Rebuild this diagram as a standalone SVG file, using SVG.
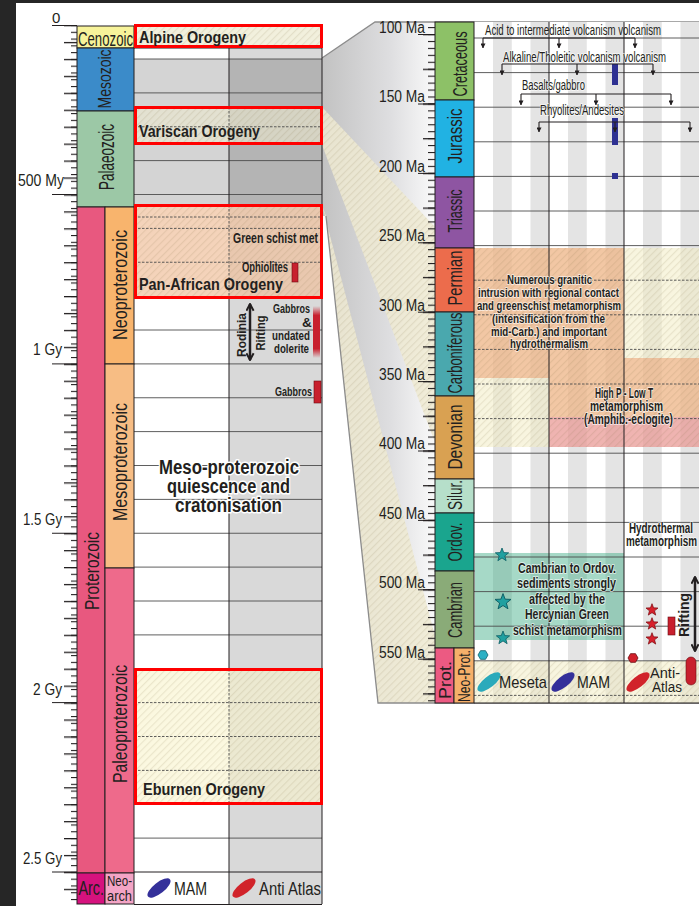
<svg xmlns="http://www.w3.org/2000/svg" width="699" height="906" viewBox="0 0 699 906">
<defs>
<style>
.t{font-family:'Liberation Sans Narrow','Liberation Sans',Arial,sans-serif;fill:#231f20}
.b{font-weight:700}
.g{stroke:#4d4d4d;stroke-width:0.9;fill:none}
.d{stroke:#4d4d4d;stroke-width:0.9;stroke-dasharray:2.5 1.5;fill:none}
.k{stroke:#231f20;stroke-width:1;fill:none}
.o{stroke:#231f20;stroke-width:1}
.rb{fill:none;stroke:#ff0000;stroke-width:3}
.h{paint-order:stroke;stroke:#fff;stroke-width:3;stroke-linejoin:round}
.h2{paint-order:stroke;stroke:#fff;stroke-opacity:0.6;stroke-width:2;stroke-linejoin:round}
.ar{stroke:#231f20;stroke-width:1.1;fill:none}
.rbar{fill:#c8202e;stroke:#6b0d12;stroke-width:0.6}
</style>
<pattern id="hatch" width="5" height="5" patternUnits="userSpaceOnUse" patternTransform="rotate(45)"><rect width="1.2" height="5" fill="#7a6a40" fill-opacity="0.13"/></pattern>
<linearGradient id="fg" gradientUnits="userSpaceOnUse" x1="322" y1="0" x2="436" y2="0"><stop offset="0" stop-color="#c2c2c2"/><stop offset="0.6" stop-color="#dedee0"/><stop offset="1" stop-color="#fafafa"/></linearGradient>
<linearGradient id="fade" x1="0" y1="0" x2="0" y2="1"><stop offset="0" stop-color="#c8202e" stop-opacity="0"/><stop offset="0.18" stop-color="#c8202e"/><stop offset="0.82" stop-color="#c8202e"/><stop offset="1" stop-color="#c8202e" stop-opacity="0"/></linearGradient>
<pattern id="tkL" x="0" y="25" width="20" height="6.775" patternUnits="userSpaceOnUse"><rect width="20" height="1.1" fill="#231f20"/></pattern>
<pattern id="tkL2" x="0" y="25" width="20" height="16.9375" patternUnits="userSpaceOnUse"><rect width="20" height="1.3" fill="#231f20"/></pattern>
<pattern id="tkR" x="0" y="34" width="20" height="6.94" patternUnits="userSpaceOnUse"><rect width="20" height="1.1" fill="#231f20"/></pattern>
<pattern id="tkR2" x="0" y="34" width="20" height="34.7" patternUnits="userSpaceOnUse"><rect width="20" height="1.3" fill="#231f20"/></pattern>
<marker id="ah" viewBox="0 0 6 6" refX="5.5" refY="3" markerWidth="5" markerHeight="5" markerUnits="userSpaceOnUse" orient="auto"><path d="M0,0 L6,3 L0,6 Z" fill="#231f20"/></marker>
<marker id="chev" viewBox="0 0 10 10" refX="8.5" refY="5" markerWidth="9" markerHeight="9" markerUnits="userSpaceOnUse" orient="auto-start-reverse"><path d="M1,1 L8.5,5 L1,9" fill="none" stroke="#231f20" stroke-width="2.2"/></marker>
<path id="star" d="M0,-7 L1.73,-2.38 L6.66,-2.16 L2.8,0.91 L4.12,5.66 L0,2.94 L-4.12,5.66 L-2.8,0.91 L-6.66,-2.16 L-1.73,-2.38 Z"/>
<path id="hex" d="M5,0 L2.5,4.33 L-2.5,4.33 L-5,0 L-2.5,-4.33 L2.5,-4.33 Z"/>
</defs>

<rect width="699" height="906" fill="#ffffff"/>
<rect x="0" y="0" width="16" height="906" fill="#262626"/>
<rect x="0" y="0" width="699" height="3" fill="#262626"/>

<!-- zoom funnel -->
<g id="connectors">
<polygon points="322,58 375,22 436,22 436,703 378,703 326,216 322,216" fill="url(#fg)"/>
<polygon points="322,107 436,228 436,445 322,145" fill="#eeead2" fill-opacity="0.85"/>
<polygon points="322,107 436,228 436,445 322,145" fill="url(#hatch)"/>
<polygon points="322,205 436,640 436,703 378,703 326,216" fill="#eeead2" fill-opacity="0.85"/>
<polygon points="322,205 436,640 436,703 378,703 326,216" fill="url(#hatch)"/>
<polyline points="322,58 375,22 699,22" fill="none" stroke="#8c8c8c" stroke-width="1.3"/>
<polyline points="326,216 378,703 699,703" fill="none" stroke="#8c8c8c" stroke-width="1.3"/>
</g>

<!-- left panel -->
<g id="left-columns">
<rect x="134" y="48" width="95" height="856" fill="#ffffff"/>
<rect x="229" y="48" width="93" height="856" fill="#d9d9d9"/>
<rect x="134" y="59" width="188" height="148" fill="#000" fill-opacity="0.17"/>
</g>

<g id="box-fills">
<rect x="135" y="26" width="187" height="21" fill="#ece9cf" fill-opacity="0.7"/>
<rect x="135" y="26" width="187" height="21" fill="url(#hatch)"/>
<rect x="135" y="107" width="187" height="37" fill="#ece9cf" fill-opacity="0.6"/>
<rect x="135" y="107" width="187" height="37" fill="url(#hatch)"/>
<rect x="135" y="205" width="187" height="93" fill="#f0c09c" fill-opacity="0.7"/>
<rect x="135" y="205" width="187" height="93" fill="url(#hatch)"/>
<rect x="135" y="669" width="187" height="135" fill="#f8f4cc" fill-opacity="0.6"/>
<rect x="135" y="669" width="187" height="135" fill="url(#hatch)"/>
</g>

<g id="left-grid">
<line class="k" x1="134" y1="48" x2="322" y2="48"/>
<line class="g" x1="134" y1="59" x2="322" y2="59"/>
<line class="g" x1="134" y1="92.9" x2="322" y2="92.9"/>
<line class="d" x1="134" y1="126.75" x2="322" y2="126.75"/>
<line class="g" x1="134" y1="160.6" x2="322" y2="160.6"/>
<line class="g" x1="134" y1="194.5" x2="322" y2="194.5"/>
<line class="d" x1="134" y1="217" x2="322" y2="217"/>
<line class="d" x1="134" y1="228.4" x2="322" y2="228.4"/>
<line class="d" x1="134" y1="262.25" x2="322" y2="262.25"/>
<line class="g" x1="134" y1="330" x2="322" y2="330"/>
<line class="g" x1="134" y1="363.9" x2="322" y2="363.9"/>
<line class="g" x1="134" y1="397.75" x2="322" y2="397.75"/>
<line class="g" x1="134" y1="431.6" x2="322" y2="431.6"/>
<line class="g" x1="134" y1="465.5" x2="322" y2="465.5"/>
<line class="g" x1="134" y1="499.4" x2="322" y2="499.4"/>
<line class="g" x1="134" y1="533.25" x2="322" y2="533.25"/>
<line class="g" x1="134" y1="567.1" x2="322" y2="567.1"/>
<line class="g" x1="134" y1="601" x2="322" y2="601"/>
<line class="g" x1="134" y1="634.9" x2="322" y2="634.9"/>
<line class="d" x1="134" y1="702.6" x2="322" y2="702.6"/>
<line class="d" x1="134" y1="736.5" x2="322" y2="736.5"/>
<line class="d" x1="134" y1="770.4" x2="322" y2="770.4"/>
<line class="g" x1="134" y1="838.1" x2="322" y2="838.1"/>
<line class="k" x1="134" y1="872" x2="322" y2="872"/>
<line class="k" x1="229" y1="48" x2="229" y2="107"/>
<line class="d" x1="229" y1="107" x2="229" y2="144"/>
<line class="k" x1="229" y1="144" x2="229" y2="205"/>
<line class="d" x1="229" y1="205" x2="229" y2="298"/>
<line class="k" x1="229" y1="298" x2="229" y2="669"/>
<line class="d" x1="229" y1="669" x2="229" y2="804"/>
<line class="k" x1="229" y1="804" x2="229" y2="904"/>
<line class="k" x1="322" y1="48" x2="322" y2="904"/>
<line class="k" x1="134" y1="904.5" x2="322" y2="904.5"/>
</g>

<g id="left-axis">
<rect x="71" y="25" width="6" height="878" fill="url(#tkL)"/>
<rect x="64" y="25" width="13" height="878" fill="url(#tkL2)"/>
<line class="k" x1="52" y1="25.5" x2="77" y2="25.5" stroke-width="1.4"/>
<line class="k" x1="52" y1="194.5" x2="77" y2="194.5" stroke-width="1.4"/>
<line class="k" x1="52" y1="363.9" x2="77" y2="363.9" stroke-width="1.4"/>
<line class="k" x1="52" y1="533.25" x2="77" y2="533.25" stroke-width="1.4"/>
<line class="k" x1="52" y1="702.6" x2="77" y2="702.6" stroke-width="1.4"/>
<line class="k" x1="52" y1="872" x2="77" y2="872" stroke-width="1.4"/>
<text class="t" x="52" y="23" font-size="15">0</text>
<text class="t" x="18" y="186" font-size="16" textLength="46" lengthAdjust="spacingAndGlyphs">500 My</text>
<text class="t" x="33" y="355" font-size="16" textLength="29" lengthAdjust="spacingAndGlyphs">1 Gy</text>
<text class="t" x="23" y="525" font-size="16" textLength="39" lengthAdjust="spacingAndGlyphs">1.5 Gy</text>
<text class="t" x="33" y="695" font-size="16" textLength="29" lengthAdjust="spacingAndGlyphs">2 Gy</text>
<text class="t" x="23" y="864" font-size="16" textLength="39" lengthAdjust="spacingAndGlyphs">2.5 Gy</text>
</g>

<g id="era-cenozoic"><rect x="77" y="26" width="57" height="22" fill="#f7f39a" class="o"/><text class="t" x="78" y="45.5" font-size="20" textLength="55" lengthAdjust="spacingAndGlyphs">Cenozoic</text></g>
<g id="era-mesozoic"><rect x="77" y="48" width="57" height="63" fill="#3b8bc9" class="o"/><text class="t" transform="translate(111,79) rotate(-90)" text-anchor="middle" font-size="19" textLength="59" lengthAdjust="spacingAndGlyphs">Mesozoic</text></g>
<g id="era-palaeozoic"><rect x="77" y="111" width="57" height="96" fill="#9cc8a6" class="o"/><text class="t" transform="translate(114,157) rotate(-90)" text-anchor="middle" font-size="22" textLength="66" lengthAdjust="spacingAndGlyphs">Palaeozoic</text></g>
<g id="era-proterozoic"><rect x="77" y="207" width="28" height="666" fill="#e8587f" class="o"/><text class="t" transform="translate(99,571) rotate(-90)" text-anchor="middle" font-size="21" textLength="78" lengthAdjust="spacingAndGlyphs">Proterozoic</text></g>
<g id="era-neoproterozoic"><rect x="105" y="207" width="29" height="157" fill="#f8b46d" class="o"/><text class="t" transform="translate(127,285) rotate(-90)" text-anchor="middle" font-size="21" textLength="110" lengthAdjust="spacingAndGlyphs">Neoproterozoic</text></g>
<g id="era-mesoproterozoic"><rect x="105" y="364" width="29" height="204" fill="#f7bd84" class="o"/><text class="t" transform="translate(127,462) rotate(-90)" text-anchor="middle" font-size="21" textLength="118" lengthAdjust="spacingAndGlyphs">Mesoproterozoic</text></g>
<g id="era-paleoproterozoic"><rect x="105" y="568" width="29" height="305" fill="#ee6a8b" class="o"/><text class="t" transform="translate(127,724) rotate(-90)" text-anchor="middle" font-size="21" textLength="118" lengthAdjust="spacingAndGlyphs">Paleoproterozoic</text></g>
<g id="era-archean"><rect x="77" y="873" width="28" height="31" fill="#d6127e" class="o"/><text class="t" x="78.5" y="895" font-size="21" textLength="25.5" lengthAdjust="spacingAndGlyphs">Arc.</text></g>
<g id="era-neoarchean"><rect x="105" y="873" width="29" height="31" fill="#f3a4c5" class="o"/><text class="t" x="107" y="886" font-size="14" textLength="25" lengthAdjust="spacingAndGlyphs">Neo-</text><text class="t" x="107" y="901" font-size="14" textLength="25" lengthAdjust="spacingAndGlyphs">arch</text></g>

<g id="alpine-orogeny"><rect class="rb" x="135.5" y="25.5" width="186" height="21"/><text class="t b" x="139" y="43" font-size="17" textLength="107" lengthAdjust="spacingAndGlyphs">Alpine Orogeny</text></g>
<g id="variscan-orogeny"><rect class="rb" x="135.5" y="107.5" width="186" height="36"/><text class="t b" x="139" y="137" font-size="17" textLength="121" lengthAdjust="spacingAndGlyphs">Variscan Orogeny</text></g>
<g id="panafrican-orogeny"><rect class="rb" x="135.5" y="205.5" width="186" height="92"/>
<text class="t b" x="233" y="243" font-size="15" textLength="85" lengthAdjust="spacingAndGlyphs">Green schist met</text>
<text class="t b" x="242" y="272" font-size="14" textLength="46" lengthAdjust="spacingAndGlyphs">Ophiolites</text>
<rect class="rbar" x="292" y="263" width="6" height="19"/>
<text class="t b" x="139" y="290" font-size="17" textLength="144" lengthAdjust="spacingAndGlyphs">Pan-African Orogeny</text></g>
<g id="rodinia-rifting">
<line x1="250" y1="304" x2="250" y2="360" stroke="#231f20" stroke-width="2.5" marker-start="url(#chev)" marker-end="url(#chev)"/>
<text class="t b" transform="translate(246,335) rotate(-90)" text-anchor="middle" font-size="13.5" textLength="44" lengthAdjust="spacingAndGlyphs">Rodinia</text>
<text class="t b" transform="translate(265,333) rotate(-90)" text-anchor="middle" font-size="13.5" textLength="35" lengthAdjust="spacingAndGlyphs">Rifting</text>
</g>
<g id="gabbros-dolerite">
<text class="t b" x="273" y="313" font-size="13.5" textLength="37" lengthAdjust="spacingAndGlyphs">Gabbros</text>
<text class="t b" x="302" y="327" font-size="13.5">&amp;</text>
<text class="t b" x="272" y="340" font-size="13.5" textLength="38" lengthAdjust="spacingAndGlyphs">undated</text>
<text class="t b" x="274" y="353" font-size="13.5" textLength="35" lengthAdjust="spacingAndGlyphs">dolerite</text>
<rect x="313" y="306" width="7" height="52" fill="url(#fade)"/>
</g>
<g id="gabbros"><text class="t b" x="275" y="396" font-size="13.5" textLength="37" lengthAdjust="spacingAndGlyphs">Gabbros</text><rect class="rbar" x="314" y="381" width="7" height="22"/></g>
<g id="mesoproterozoic-quiescence">
<text class="t b h" x="159" y="474" font-size="20" textLength="140" lengthAdjust="spacingAndGlyphs">Meso-proterozoic</text>
<text class="t b h" x="167" y="493" font-size="20" textLength="123" lengthAdjust="spacingAndGlyphs">quiescence and</text>
<text class="t b h" x="175" y="512" font-size="20" textLength="107" lengthAdjust="spacingAndGlyphs">cratonisation</text>
</g>
<g id="eburnen-orogeny"><rect class="rb" x="135.5" y="669.5" width="186" height="134"/><text class="t b" x="143" y="795" font-size="17" textLength="122" lengthAdjust="spacingAndGlyphs">Eburnen Orogeny</text></g>
<g id="left-legend">
<ellipse cx="159" cy="888" rx="14" ry="5.5" fill="#34309a" transform="rotate(-38 159 888)"/>
<text class="t" x="174" y="895" font-size="18" textLength="33" lengthAdjust="spacingAndGlyphs">MAM</text>
<ellipse cx="244" cy="888" rx="14" ry="5.5" fill="#d1232a" transform="rotate(-38 244 888)"/>
<text class="t" x="259" y="895" font-size="18" textLength="62" lengthAdjust="spacingAndGlyphs">Anti Atlas</text>
</g>

<!-- right panel -->
<g id="right-background">
<rect x="474" y="22" width="225" height="681" fill="#ffffff"/>
<g fill="#e4e4e4">
<rect x="493" y="22" width="18.75" height="681"/><rect x="530.5" y="22" width="18.5" height="681"/>
<rect x="568" y="22" width="18.75" height="681"/><rect x="605.5" y="22" width="18.5" height="681"/>
<rect x="643" y="22" width="18.75" height="681"/><rect x="680.5" y="22" width="18.5" height="681"/>
</g>
<rect x="474" y="248" width="225" height="199" fill="#f3edc4" fill-opacity="0.55"/>
<rect x="474" y="661" width="225" height="42" fill="#f3edc4" fill-opacity="0.55"/>
<polygon points="474,248 624,248 624,358 699,358 699,417 549,417 549,378 474,378" fill="#eb9a6a" fill-opacity="0.5"/>
<rect x="549" y="417" width="150" height="30" fill="#e35a73" fill-opacity="0.42"/>
<rect x="474" y="248" width="225" height="199" fill="url(#hatch)"/>
<rect x="474" y="661" width="225" height="42" fill="url(#hatch)"/>
<rect x="475" y="553" width="149" height="87" fill="#3aaa82" fill-opacity="0.45"/>
</g>

<g id="right-grid">
<line class="g" x1="474" y1="38" x2="699" y2="38"/>
<line class="g" x1="474" y1="72.6" x2="699" y2="72.6"/>
<line class="g" x1="474" y1="107.2" x2="699" y2="107.2"/>
<line class="g" x1="474" y1="141.8" x2="699" y2="141.8"/>
<line class="g" x1="474" y1="176.4" x2="699" y2="176.4"/>
<line class="g" x1="474" y1="211" x2="699" y2="211"/>
<line class="g" x1="474" y1="245.6" x2="699" y2="245.6"/>
<line class="d" x1="474" y1="280.2" x2="699" y2="280.2"/>
<line class="d" x1="474" y1="314.8" x2="699" y2="314.8"/>
<line class="d" x1="474" y1="349.4" x2="699" y2="349.4"/>
<line class="d" x1="474" y1="384" x2="699" y2="384"/>
<line class="d" x1="474" y1="418.6" x2="699" y2="418.6"/>
<line class="g" x1="474" y1="453.2" x2="699" y2="453.2"/>
<line class="g" x1="474" y1="487.8" x2="699" y2="487.8"/>
<line class="g" x1="474" y1="522.4" x2="699" y2="522.4"/>
<line class="g" x1="474" y1="557" x2="699" y2="557"/>
<line class="g" x1="474" y1="591.6" x2="699" y2="591.6"/>
<line class="g" x1="474" y1="626.2" x2="699" y2="626.2"/>
<line class="g" x1="474" y1="660.8" x2="699" y2="660.8"/>
<line class="d" x1="474" y1="695.4" x2="699" y2="695.4"/>
<line class="k" x1="549" y1="22" x2="549" y2="703"/>
<line class="k" x1="624" y1="22" x2="624" y2="703"/>
<line class="k" x1="474" y1="703" x2="699" y2="703"/>
</g>

<g id="period-cretaceous"><rect x="435" y="22" width="39" height="78" fill="#8dc167" class="o"/><text class="t" transform="translate(467,64) rotate(-90)" text-anchor="middle" font-size="20" textLength="65" lengthAdjust="spacingAndGlyphs">Cretaceous</text></g>
<g id="period-jurassic"><rect x="435" y="100" width="39" height="77" fill="#21b2e3" class="o"/><text class="t" transform="translate(462,136) rotate(-90)" text-anchor="middle" font-size="20" textLength="55" lengthAdjust="spacingAndGlyphs">Jurassic</text></g>
<g id="period-triassic"><rect x="435" y="177" width="39" height="71" fill="#8e55a2" class="o"/><text class="t" transform="translate(462,211) rotate(-90)" text-anchor="middle" font-size="20" textLength="43" lengthAdjust="spacingAndGlyphs">Triassic</text></g>
<g id="period-permian"><rect x="435" y="248" width="39" height="64" fill="#ec6c4c" class="o"/><text class="t" transform="translate(462,278) rotate(-90)" text-anchor="middle" font-size="20" textLength="55" lengthAdjust="spacingAndGlyphs">Permian</text></g>
<g id="period-carboniferous"><rect x="435" y="312" width="39" height="84" fill="#4aa8ae" class="o"/><text class="t" transform="translate(462,353) rotate(-90)" text-anchor="middle" font-size="20" textLength="81" lengthAdjust="spacingAndGlyphs">Carboniferous</text></g>
<g id="period-devonian"><rect x="435" y="396" width="39" height="83" fill="#d9a152" class="o"/><text class="t" transform="translate(462,437) rotate(-90)" text-anchor="middle" font-size="20" textLength="65" lengthAdjust="spacingAndGlyphs">Devonian</text></g>
<g id="period-silurian"><rect x="435" y="479" width="39" height="34" fill="#b6dfca" class="o"/><text class="t" transform="translate(462,495) rotate(-90)" text-anchor="middle" font-size="20" textLength="30" lengthAdjust="spacingAndGlyphs">Silur.</text></g>
<g id="period-ordovician"><rect x="435" y="513" width="39" height="58" fill="#1aa58e" class="o"/><text class="t" transform="translate(462,542) rotate(-90)" text-anchor="middle" font-size="20" textLength="39" lengthAdjust="spacingAndGlyphs">Ordov.</text></g>
<g id="period-cambrian"><rect x="435" y="571" width="39" height="77" fill="#8aab78" class="o"/><text class="t" transform="translate(462,610) rotate(-90)" text-anchor="middle" font-size="20" textLength="56" lengthAdjust="spacingAndGlyphs">Cambrian</text></g>
<g id="period-prot"><rect x="435" y="648" width="19" height="55" fill="#ec5a82" class="o"/><text class="t" transform="translate(451,680) rotate(-90)" text-anchor="middle" font-size="17" textLength="38" lengthAdjust="spacingAndGlyphs">Prot.</text></g>
<g id="period-neoprot"><rect x="454" y="648" width="20" height="55" fill="#f6b06a" class="o"/><text class="t" transform="translate(470,676) rotate(-90)" text-anchor="middle" font-size="16" textLength="52" lengthAdjust="spacingAndGlyphs">Neo-Prot.</text></g>

<g id="right-axis">
<rect x="428" y="22" width="7" height="681" fill="url(#tkR)"/>
<rect x="423" y="22" width="12" height="681" fill="url(#tkR2)"/>
<g class="k" stroke-width="1.4">
<line x1="418" y1="34.5" x2="435" y2="34.5"/><line x1="418" y1="104" x2="435" y2="104"/>
<line x1="418" y1="173.4" x2="435" y2="173.4"/><line x1="418" y1="242.8" x2="435" y2="242.8"/>
<line x1="418" y1="312.2" x2="435" y2="312.2"/><line x1="418" y1="381.6" x2="435" y2="381.6"/>
<line x1="418" y1="451" x2="435" y2="451"/><line x1="418" y1="520.4" x2="435" y2="520.4"/>
<line x1="418" y1="589.8" x2="435" y2="589.8"/><line x1="418" y1="659.2" x2="435" y2="659.2"/>
</g>
<g class="t" font-size="16">
<text x="379" y="33" textLength="46" lengthAdjust="spacingAndGlyphs">100 Ma</text>
<text x="379" y="102.4" textLength="46" lengthAdjust="spacingAndGlyphs">150 Ma</text>
<text x="379" y="171.8" textLength="46" lengthAdjust="spacingAndGlyphs">200 Ma</text>
<text x="379" y="241.2" textLength="46" lengthAdjust="spacingAndGlyphs">250 Ma</text>
<text x="379" y="310.6" textLength="46" lengthAdjust="spacingAndGlyphs">300 Ma</text>
<text x="379" y="380" textLength="46" lengthAdjust="spacingAndGlyphs">350 Ma</text>
<text x="379" y="449.4" textLength="46" lengthAdjust="spacingAndGlyphs">400 Ma</text>
<text x="379" y="518.8" textLength="46" lengthAdjust="spacingAndGlyphs">450 Ma</text>
<text x="379" y="588.2" textLength="46" lengthAdjust="spacingAndGlyphs">500 Ma</text>
<text x="379" y="657.6" textLength="46" lengthAdjust="spacingAndGlyphs">550 Ma</text>
</g>
</g>

<g id="volcanism-acid">
<text class="t" x="485" y="35" font-size="14" textLength="176" lengthAdjust="spacingAndGlyphs">Acid to intermediate volcanism volcanism</text>
<path class="ar" d="M483,38 H635"/>
<line class="ar" x1="483" y1="38" x2="483" y2="48" marker-end="url(#ah)"/><line class="ar" x1="559" y1="38" x2="559" y2="48" marker-end="url(#ah)"/><line class="ar" x1="635" y1="38" x2="635" y2="48" marker-end="url(#ah)"/>
</g>
<g id="volcanism-alkaline">
<rect x="612" y="64" width="6" height="21" fill="#2e3192"/>
<text class="t h2" x="503" y="62" font-size="14" textLength="163" lengthAdjust="spacingAndGlyphs">Alkaline/Tholeitic volcanism volcanism</text>
<path class="ar" d="M502,64 H653"/>
<line class="ar" x1="502" y1="64" x2="502" y2="75" marker-end="url(#ah)"/><line class="ar" x1="577" y1="64" x2="577" y2="75" marker-end="url(#ah)"/><line class="ar" x1="653" y1="64" x2="653" y2="75" marker-end="url(#ah)"/>
</g>
<g id="volcanism-basalts">
<text class="t h2" x="522" y="90" font-size="14" textLength="63" lengthAdjust="spacingAndGlyphs">Basalts/gabbro</text>
<path class="ar" d="M521,94 H671"/>
<line class="ar" x1="521" y1="94" x2="521" y2="105" marker-end="url(#ah)"/><line class="ar" x1="596" y1="94" x2="596" y2="105" marker-end="url(#ah)"/><line class="ar" x1="671" y1="94" x2="671" y2="105" marker-end="url(#ah)"/>
</g>
<g id="volcanism-rhyolites">
<rect x="612" y="118" width="6" height="27" fill="#2e3192"/>
<rect x="612" y="173" width="6" height="6" fill="#2e3192"/>
<text class="t h2" x="540" y="115" font-size="14" textLength="84" lengthAdjust="spacingAndGlyphs">Rhyolites/Andesites</text>
<path class="ar" d="M539,122 H690"/>
<line class="ar" x1="539" y1="122" x2="539" y2="132" marker-end="url(#ah)"/><line class="ar" x1="615" y1="122" x2="615" y2="132" marker-end="url(#ah)"/><line class="ar" x1="690" y1="122" x2="690" y2="132" marker-end="url(#ah)"/>
</g>

<g id="granitic-intrusion">
<g class="t b h2" font-size="13.5">
<text x="507" y="284" textLength="85" lengthAdjust="spacingAndGlyphs">Numerous granitic</text>
<text x="478" y="297" textLength="141" lengthAdjust="spacingAndGlyphs">intrusion with regional contact</text>
<text x="477" y="310" textLength="144" lengthAdjust="spacingAndGlyphs">and greenschist metamorphism</text>
<text x="492" y="323" textLength="113" lengthAdjust="spacingAndGlyphs">(intensification from the</text>
<text x="491" y="335.5" textLength="116" lengthAdjust="spacingAndGlyphs">mid-Carb.) and important</text>
<text x="510" y="348" textLength="78" lengthAdjust="spacingAndGlyphs">hydrothermalism</text>
</g></g>
<g id="hp-lt-metamorphism">
<g class="t b h2" font-size="14">
<text x="595" y="398" textLength="58" lengthAdjust="spacingAndGlyphs">High P - Low T</text>
<text x="590" y="410.5" textLength="73" lengthAdjust="spacingAndGlyphs">metamorphism</text>
<text x="584" y="423.5" textLength="89" lengthAdjust="spacingAndGlyphs">(Amphib.-eclogite)</text>
</g></g>
<g id="hydrothermal-metamorphism">
<g class="t b h2" font-size="14">
<text x="629" y="533" textLength="64" lengthAdjust="spacingAndGlyphs">Hydrothermal</text>
<text x="626" y="545.5" textLength="71" lengthAdjust="spacingAndGlyphs">metamorphism</text>
</g></g>
<g id="cambrian-sediments">
<g fill="#20a0a0" stroke="#0b5d63" stroke-width="0.8">
<use href="#star" transform="translate(502,555)"/>
<use href="#star" transform="translate(503,602) scale(1.2)"/>
<use href="#star" transform="translate(503,638)"/>
</g>
<g class="t b h2" font-size="15.5">
<text x="518" y="572.5" textLength="98" lengthAdjust="spacingAndGlyphs">Cambrian to Ordov.</text>
<text x="517" y="588" textLength="99" lengthAdjust="spacingAndGlyphs">sediments strongly</text>
<text x="529" y="603.5" textLength="76" lengthAdjust="spacingAndGlyphs">affected by the</text>
<text x="525" y="619" textLength="84" lengthAdjust="spacingAndGlyphs">Hercynian Green</text>
<text x="513" y="634.5" textLength="109" lengthAdjust="spacingAndGlyphs">schist metamorphism</text>
</g></g>
<g id="anti-atlas-markers">
<g fill="#d7202b" stroke="#7a0a10" stroke-width="0.8">
<use href="#star" transform="translate(652,610) scale(0.9)"/>
<use href="#star" transform="translate(652,624) scale(0.9)"/>
<use href="#star" transform="translate(652,639) scale(0.9)"/>
</g>
<rect class="rbar" x="668" y="617" width="7" height="18"/>
<rect class="rbar" x="686" y="657" width="10" height="28" rx="5"/>
<use href="#hex" transform="translate(633,658)" fill="#d2202b" stroke="#6a0a10" stroke-width="0.8"/>
<use href="#hex" transform="translate(483,655)" fill="#2bb0c4" stroke="#0d5f6b" stroke-width="0.8"/>
</g>
<g id="rifting">
<line x1="695" y1="577" x2="695" y2="651" stroke="#231f20" stroke-width="2.5" marker-start="url(#chev)" marker-end="url(#chev)"/>
<text class="t b" transform="translate(689,615) rotate(-90)" text-anchor="middle" font-size="15" textLength="44" lengthAdjust="spacingAndGlyphs">Rifting</text>
</g>
<g id="right-legend">
<ellipse cx="489" cy="682" rx="14" ry="5.5" fill="#2aaabb" transform="rotate(-38 489 682)"/>
<text class="t" x="499" y="688" font-size="17" textLength="48" lengthAdjust="spacingAndGlyphs">Meseta</text>
<ellipse cx="563" cy="682" rx="14" ry="5.5" fill="#34309a" transform="rotate(-38 563 682)"/>
<text class="t" x="577" y="688" font-size="17" textLength="33" lengthAdjust="spacingAndGlyphs">MAM</text>
<ellipse cx="638" cy="682" rx="14" ry="5.5" fill="#d1232a" transform="rotate(-38 638 682)"/>
<text class="t" x="650" y="678" font-size="14" textLength="30" lengthAdjust="spacingAndGlyphs">Anti-</text>
<text class="t" x="652" y="692" font-size="14" textLength="30" lengthAdjust="spacingAndGlyphs">Atlas</text>
</g>
</svg>
